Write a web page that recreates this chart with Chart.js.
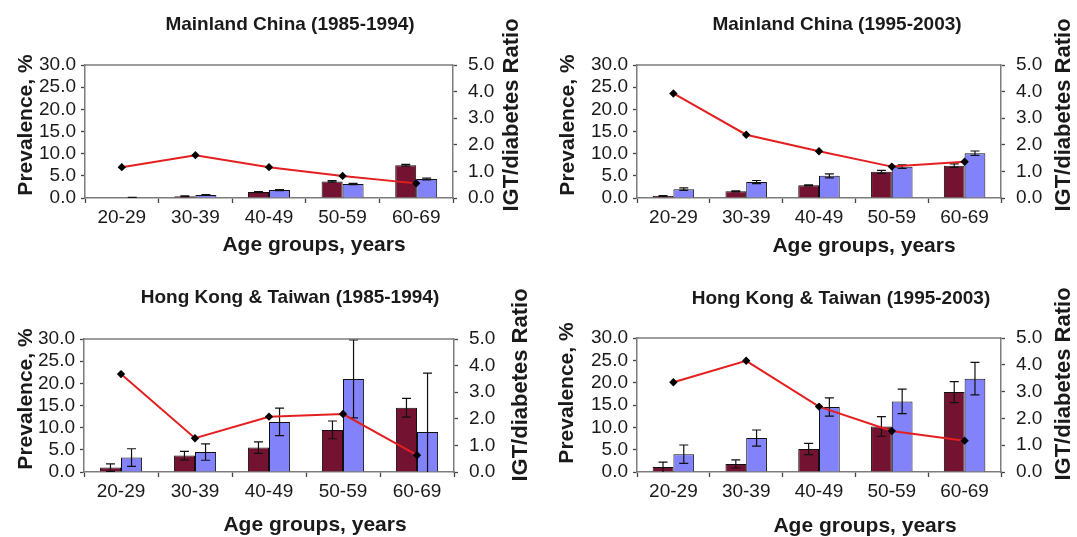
<!DOCTYPE html>
<html><head><meta charset="utf-8">
<script src="https://cdn.jsdelivr.net/npm/chart.js@4.4.1/dist/chart.umd.min.js"></script>
<style>
html,body{margin:0;padding:0;background:#fff;width:1077px;height:537px;overflow:hidden;}
.p{position:absolute;}
</style></head><body>
<div class="p" style="left:0px;top:0px;width:538px;height:268px"><canvas id="c1"></canvas></div>
<div class="p" style="left:538px;top:0px;width:539px;height:268px"><canvas id="c2"></canvas></div>
<div class="p" style="left:0px;top:268px;width:538px;height:269px"><canvas id="c3"></canvas></div>
<div class="p" style="left:538px;top:268px;width:539px;height:269px"><canvas id="c4"></canvas></div>
<script>
// ---------- data ----------
const ageGroups = ['20-29', '30-39', '40-49', '50-59', '60-69'];
const panelTitles = ['Mainland China (1985-1994)', 'Mainland China (1995-2003)',
                     'Hong Kong & Taiwan (1985-1994)', 'Hong Kong & Taiwan (1995-2003)'];
const xAxisTitle = 'Age groups, years';
const leftAxisTitle = 'Prevalence, %';
const rightAxisTitle = 'IGT/diabetes Ratio';

// Mainland China 1985-1994
const mc1Diabetes    = [0.0, 0.4, 1.35, 3.75, 7.4];
const mc1DiabetesErr = [0.0, 0.08, 0.12, 0.15, 0.2];
const mc1IGT         = [0.1, 0.7, 1.8, 3.15, 4.3];
const mc1IGTErr      = [0.05, 0.08, 0.12, 0.15, 0.2];
const mc1Ratio       = [1.16, 1.61, 1.16, 0.83, 0.55];

// Mainland China 1995-2003
const mc2Diabetes    = [0.45, 1.5, 2.85, 5.9, 7.3];
const mc2DiabetesErr = [0.1, 0.1, 0.12, 0.35, 0.4];
const mc2IGT         = [2.0, 3.6, 5.0, 7.05, 10.1];
const mc2IGTErr      = [0.3, 0.35, 0.45, 0.4, 0.5];
const mc2Ratio       = [3.93, 2.38, 1.76, 1.18, 1.36];

// Hong Kong & Taiwan 1985-1994
const hk1Diabetes    = [1.0, 3.7, 5.5, 9.5, 14.5];
const hk1DiabetesErr = [0.85, 0.95, 1.3, 2.0, 2.1];
const hk1IGT         = [3.25, 4.5, 11.3, 21.0, 9.0];
const hk1IGTErr      = [2.0, 1.85, 3.1, 8.8, 13.3];
const hk1Ratio       = [3.68, 1.27, 2.08, 2.18, 0.63];

// Hong Kong & Taiwan 1995-2003
const hk2Diabetes    = [1.1, 1.8, 5.15, 10.2, 17.9];
const hk2DiabetesErr = [1.1, 0.9, 1.25, 2.2, 2.35];
const hk2IGT         = [4.0, 7.6, 14.55, 15.8, 20.9];
const hk2IGTErr      = [2.05, 1.8, 2.05, 2.75, 3.65];
const hk2Ratio       = [3.35, 4.15, 2.44, 1.53, 1.17];

const prevalenceMax = 30, prevalenceStep = 5;
const ratioMax = 5, ratioStep = 1;

// ---------- styles ----------
const FONT = '"Liberation Sans", Arial, Helvetica, sans-serif';
const DIAB_COLOR = '#741231';
const IGT_COLOR = '#8282fa';
const LINE_COLOR = '#e3201f';
const AXIS_COLOR = '#7c7c7c';
const TEXT_COLOR = '#1a1a1a';

const errorBarPlugin = {
  id: 'errorBars',
  afterDatasetDraw(chart, args) {
    const ds = chart.data.datasets[args.index];
    if (!ds.errors) return;
    const yScale = chart.scales[ds.yAxisID];
    const ctx = chart.ctx, a = chart.chartArea;
    ctx.save();
    ctx.beginPath(); ctx.rect(a.left, a.top - 1, a.right - a.left, a.bottom - a.top + 1); ctx.clip();
    ctx.strokeStyle = '#111'; ctx.lineWidth = 1.2;
    args.meta.data.forEach((el, i) => {
      const v = ds.data[i], e = ds.errors[i];
      if (!e) return;
      const x = el.x;
      const yT = yScale.getPixelForValue(v + e);
      const lo = v - e;
      const yB = yScale.getPixelForValue(Math.max(0, lo));
      ctx.beginPath();
      ctx.moveTo(x, yT); ctx.lineTo(x, yB);
      ctx.moveTo(x - 4.5, yT); ctx.lineTo(x + 4.5, yT);
      if (lo > 0) { ctx.moveTo(x - 4.5, yB); ctx.lineTo(x + 4.5, yB); }
      ctx.stroke();
    });
    ctx.restore();
  }
};

const panelTextPlugin = {
  id: 'panelText',
  afterDraw(chart, args, o) {
    const ctx = chart.ctx, a = chart.chartArea;
    const ox = o.offX, oy = o.offY;
    ctx.save();
    ctx.strokeStyle = AXIS_COLOR; ctx.lineWidth = 1.5;
    ctx.beginPath(); ctx.moveTo(a.left, a.top); ctx.lineTo(a.right, a.top); ctx.stroke();
    ctx.fillStyle = TEXT_COLOR; ctx.textAlign = 'center'; ctx.textBaseline = 'middle';
    ctx.font = 'bold 19px ' + FONT;
    ctx.fillText(o.title, o.title_x - ox, o.title_y - oy);
    ctx.font = 'bold 21px ' + FONT;
    ctx.fillText(o.xTitle, o.xt_x - ox, o.xt_y - oy);
    ctx.save();
    ctx.translate(o.lt_x - ox, o.lt_y - oy); ctx.rotate(-Math.PI / 2);
    ctx.fillText(o.leftTitle, 0, 0);
    ctx.restore();
    ctx.save();
    ctx.font = 'bold 22px ' + FONT;
    ctx.translate(o.rt_x - ox, o.rt_y - oy); ctx.rotate(-Math.PI / 2);
    ctx.fillText(o.rightTitle, 0, 0);
    ctx.restore();
    ctx.restore();
  }
};

function makePanel(id, cfg) {
  const d = cfg.data;
  const C = cfg.canvas, A = cfg.area;
  const leftW = 60, rightW = 60, xH = 40;
  const pad = {
    left: (A.l - C.x) - leftW,
    right: (C.x + C.w - A.r) - rightW,
    top: A.t - C.y,
    bottom: (C.y + C.h - A.b) - xH
  };
  new Chart(document.getElementById(id), {
    type: 'bar',
    data: {
      labels: ageGroups,
      datasets: [
        { type: 'line', label: 'IGT/diabetes ratio', data: d.ratio, yAxisID: 'y2', order: 0,
          borderColor: LINE_COLOR, borderWidth: 2, tension: 0, fill: false,
          pointStyle: 'rectRot', pointRadius: 4.2, pointBackgroundColor: '#000', pointBorderColor: '#000', pointBorderWidth: 0 },
        { label: 'Diabetes', data: d.diab, errors: d.diabErr, yAxisID: 'y', order: 1,
          backgroundColor: DIAB_COLOR, borderColor: '#111', borderWidth: 1,
          categoryPercentage: 0.57, barPercentage: 1.0 },
        { label: 'IGT', data: d.igt, errors: d.igtErr, yAxisID: 'y', order: 1,
          backgroundColor: IGT_COLOR, borderColor: '#111', borderWidth: 1,
          categoryPercentage: 0.57, barPercentage: 1.0 }
      ]
    },
    options: {
      responsive: true, maintainAspectRatio: false, animation: false,
      layout: { padding: pad },
      plugins: {
        legend: { display: false }, tooltip: { enabled: false }, title: { display: false },
        panelText: Object.assign({ offX: C.x, offY: C.y, xTitle: xAxisTitle, leftTitle: leftAxisTitle, rightTitle: rightAxisTitle }, cfg.text)
      },
      scales: {
        x: {
          type: 'category', position: 'bottom', offset: true,
          afterFit: s => { s.height = xH; },
          grid: { display: true, offset: true, drawOnChartArea: false, drawTicks: true, tickLength: 5, tickColor: '#444', tickWidth: 1.3 },
          border: { display: true, color: AXIS_COLOR, width: 1.5 },
          ticks: { color: TEXT_COLOR, font: { family: FONT, size: 19 }, padding: 3, maxRotation: 0, autoSkip: false }
        },
        y: {
          type: 'linear', position: 'left', min: 0, max: prevalenceMax,
          afterFit: s => { s.width = leftW; },
          grid: { display: true, drawOnChartArea: false, drawTicks: true, tickLength: 4, tickColor: '#444', tickWidth: 1.3 },
          border: { display: true, color: AXIS_COLOR, width: 1.5 },
          ticks: { stepSize: prevalenceStep, maxTicksLimit: 20, autoSkip: false, color: TEXT_COLOR,
                   font: { family: FONT, size: 19, lineHeight: 0.8 }, padding: 5,
                   callback: v => Number(v).toFixed(1) }
        },
        y2: {
          type: 'linear', position: 'right', min: 0, max: ratioMax,
          afterFit: s => { s.width = rightW; },
          grid: { display: true, drawOnChartArea: false, drawTicks: true, tickLength: 4, tickColor: '#444', tickWidth: 1.3 },
          border: { display: true, color: AXIS_COLOR, width: 1.5 },
          ticks: { stepSize: ratioStep, maxTicksLimit: 20, autoSkip: false, color: TEXT_COLOR,
                   font: { family: FONT, size: 19, lineHeight: 0.8 }, padding: 11,
                   callback: v => Number(v).toFixed(1) }
        }
      }
    },
    plugins: [errorBarPlugin, panelTextPlugin]
  });
}

makePanel('c1', {
  canvas: { x: 0, y: 0, w: 538, h: 268 },
  area: { l: 85, r: 453, t: 65, b: 198 },
  data: { diab: mc1Diabetes, diabErr: mc1DiabetesErr, igt: mc1IGT, igtErr: mc1IGTErr, ratio: mc1Ratio },
  text: { title: panelTitles[0], title_x: 290, title_y: 25, xt_x: 314, xt_y: 245, lt_x: 26, lt_y: 125, rt_x: 512, rt_y: 115 }
});
makePanel('c2', {
  canvas: { x: 538, y: 0, w: 539, h: 268 },
  area: { l: 637, r: 1001, t: 65, b: 198 },
  data: { diab: mc2Diabetes, diabErr: mc2DiabetesErr, igt: mc2IGT, igtErr: mc2IGTErr, ratio: mc2Ratio },
  text: { title: panelTitles[1], title_x: 837, title_y: 25, xt_x: 864, xt_y: 246, lt_x: 568, lt_y: 125, rt_x: 1064, rt_y: 115 }
});
makePanel('c3', {
  canvas: { x: 0, y: 268, w: 538, h: 269 },
  area: { l: 84, r: 454, t: 339, b: 472 },
  data: { diab: hk1Diabetes, diabErr: hk1DiabetesErr, igt: hk1IGT, igtErr: hk1IGTErr, ratio: hk1Ratio },
  text: { title: panelTitles[2], title_x: 290, title_y: 298, xt_x: 315, xt_y: 525, lt_x: 26, lt_y: 399, rt_x: 521, rt_y: 385 }
});
makePanel('c4', {
  canvas: { x: 538, y: 268, w: 539, h: 269 },
  area: { l: 637, r: 1001, t: 338, b: 472 },
  data: { diab: hk2Diabetes, diabErr: hk2DiabetesErr, igt: hk2IGT, igtErr: hk2IGTErr, ratio: hk2Ratio },
  text: { title: panelTitles[3], title_x: 841, title_y: 299, xt_x: 865, xt_y: 526, lt_x: 567, lt_y: 393, rt_x: 1064, rt_y: 384 }
});
</script>
</body></html>
